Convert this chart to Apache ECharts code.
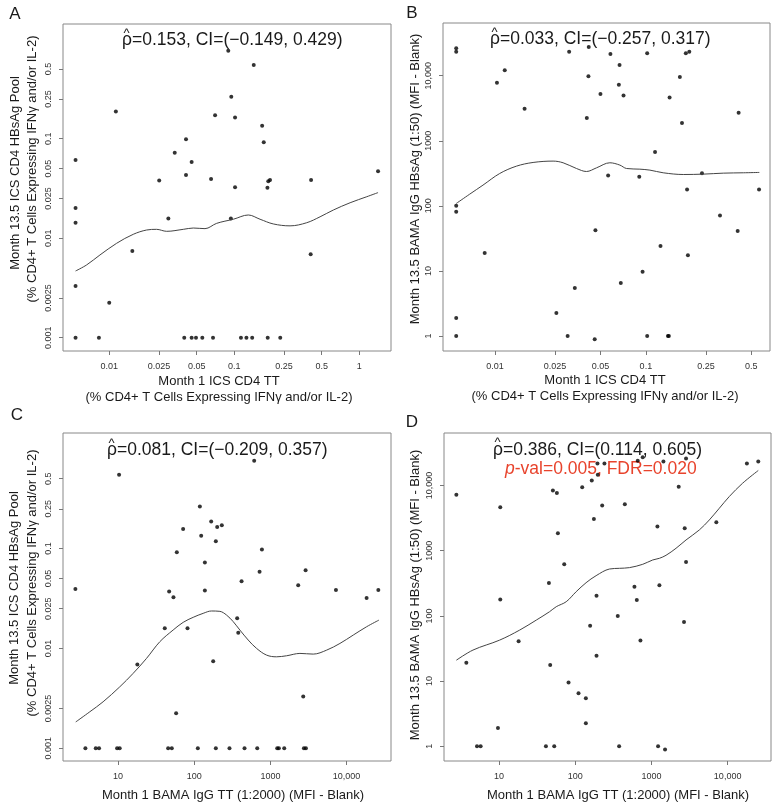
<!DOCTYPE html>
<html>
<head>
<meta charset="utf-8">
<script src="https://cdn.jsdelivr.net/npm/echarts@6/dist/echarts.min.js"></script>
<style>
  html, body { margin: 0; padding: 0; background: #fff; }
  #chart { width: 779px; height: 804px; }
</style>
</head>
<body>
<div id="chart"></div>
<script>
// panel A: Month 1 ICS CD4 TT vs Month 13.5 ICS CD4 HBsAg
const aX = [0.00538, 0.00538, 0.00538, 0.00538, 0.00538, 0.00827, 0.01, 0.0113, 0.0153, 0.0251, 0.0297, 0.0334, 0.0411, 0.0411, 0.0456, 0.0398, 0.0456, 0.0494, 0.0555, 0.0676, 0.0652, 0.0702, 0.0895, 0.0946, 0.0939, 0.1014, 0.1014, 0.113, 0.125, 0.139, 0.143, 0.167, 0.172, 0.184, 0.187, 0.193, 0.185, 0.233, 0.411, 0.408, 1.41];
const aY = [0.0611, 0.0201, 0.0143, 0.00331, 0.001, 0.001, 0.00225, 0.187, 0.00743, 0.0379, 0.0158, 0.0723, 0.0987, 0.0431, 0.0583, 0.001, 0.001, 0.001, 0.001, 0.001, 0.0394, 0.172, 0.766, 0.264, 0.0158, 0.163, 0.0325, 0.001, 0.001, 0.001, 0.551, 0.135, 0.092, 0.0322, 0.0373, 0.0384, 0.001, 0.001, 0.0384, 0.00689, 0.047];
const aFitX = [0.00538, 0.00659, 0.00843, 0.01145, 0.01557, 0.0199, 0.0239, 0.0288, 0.0391, 0.047, 0.0583, 0.0723, 0.0982, 0.1294, 0.1606, 0.2051, 0.279, 0.3793, 0.485, 0.62, 0.843, 1.146, 1.41];
const aFitY = [0.00468, 0.00538, 0.00678, 0.00888, 0.01094, 0.01208, 0.01227, 0.01172, 0.01227, 0.01265, 0.01247, 0.0141, 0.0155, 0.0171, 0.0155, 0.0139, 0.0133, 0.0143, 0.0164, 0.0192, 0.0227, 0.0261, 0.0287];

// panel B: Month 1 ICS CD4 TT vs Month 13.5 BAMA IgG HBsAg
const bX = [0.00553, 0.00553, 0.00553, 0.00553, 0.00553, 0.00553, 0.00854, 0.0103, 0.0116, 0.0157, 0.0255, 0.0303, 0.031, 0.0338, 0.0406, 0.0416, 0.0418, 0.0458, 0.0463, 0.05, 0.0562, 0.0582, 0.0662, 0.0669, 0.0682, 0.0711, 0.0904, 0.0951, 0.102, 0.102, 0.115, 0.125, 0.14, 0.142, 0.1436, 0.168, 0.1735, 0.184, 0.194, 0.1875, 0.19, 0.2355, 0.31, 0.406, 0.412, 0.5625];
const bY = [26350, 23400, 100, 80.9, 1.89, 1, 18.9, 7800, 12080, 3105, 2.26, 1, 23400, 5.47, 2233, 9770, 27600, 0.889, 42.2, 5225, 293, 21530, 7270, 14590, 6.54, 4980, 279, 9.66, 22070, 1, 670, 24.2, 1, 1, 4645, 9530, 1870, 22070, 23400, 178, 17.4, 318, 71, 41.2, 2698, 178];
const bFitX = [0.00553, 0.00679, 0.00832, 0.01074, 0.01386, 0.01788, 0.02427, 0.02827, 0.03466, 0.04038, 0.0471, 0.0577, 0.0672, 0.0744, 0.0912, 0.1063, 0.1303, 0.177, 0.2403, 0.326, 0.443, 0.565];
const bFitY = [108.6, 151, 208, 314, 407, 464, 487, 459, 375, 337, 384, 459, 423, 375, 366, 354, 322, 303, 307, 318, 322, 326];

// panel C: Month 1 BAMA IgG TT vs Month 13.5 ICS CD4 HBsAg
const cX = [2.75, 3.72, 5.09, 5.62, 9.7, 10.5, 10.3, 17.9, 41.0, 45.4, 50.7, 46.8, 53.3, 59.0, 57.8, 71.4, 81.5, 111.4, 118.4, 123.3, 137.8, 137.8, 166.8, 177.2, 192, 192, 200, 230, 290, 366, 378, 418, 457, 612, 671, 720, 773, 1228, 1291, 1518, 2317, 2696, 2752, 2924, 2896, 7247, 18320, 26120];
const cY = [0.0394, 0.001, 0.001, 0.001, 0.001, 0.001, 0.548, 0.0069, 0.0159, 0.001, 0.001, 0.0371, 0.0325, 0.0918, 0.00224, 0.157, 0.0159, 0.001, 0.264, 0.134, 0.0725, 0.038, 0.187, 0.00742, 0.001, 0.1186, 0.164, 0.171, 0.001, 0.02, 0.01436, 0.047, 0.001, 0.759, 0.001, 0.0587, 0.0977, 0.001, 0.001, 0.001, 0.0428, 0.0033, 0.001, 0.001, 0.0607, 0.0385, 0.032, 0.0385];
const cFitX = [2.78, 4.25, 6.35, 10.5, 15.7, 23.6, 35.3, 52.8, 71.5, 96.8, 131, 168, 217, 265, 325, 397, 511, 658, 890, 1205, 1630, 2440, 3650, 5470, 8180, 12250, 18330, 26600];
const cFitY = [0.001836, 0.00232, 0.00292, 0.00412, 0.00561, 0.00794, 0.01167, 0.01528, 0.01824, 0.02048, 0.02245, 0.0237, 0.0235, 0.0216, 0.01852, 0.01528, 0.01213, 0.01, 0.00857, 0.00824, 0.00844, 0.00891, 0.00877, 0.00961, 0.01122, 0.01361, 0.01649, 0.01921];

// panel D: Month 1 BAMA IgG TT vs Month 13.5 BAMA IgG HBsAg
const dX = [2.76, 3.73, 5.15, 5.75, 9.7, 10.4, 10.4, 18.1, 41.3, 45.2, 47.0, 51.0, 53.1, 57.5, 59.3, 71.8, 81.8, 110.6, 123.6, 138, 138, 157, 165, 176, 190.5, 190.5, 196, 198, 226, 242, 362, 377, 448, 599, 643, 662, 718, 770, 1199, 1223, 1273, 1437, 1510, 2281, 2679, 2735, 2847, 2847, 7110, 17900, 25230];
const dY = [7190, 19.1, 1, 1, 1.91, 4650, 179, 41, 1, 319, 17.6, 8380, 1, 7710, 1852, 618, 9.51, 6.52, 9420, 5.47, 2.26, 70.6, 11940, 3075, 204, 24.4, 21780, 14590, 4930, 21780, 99.4, 1, 5160, 281, 175, 23930, 42, 27260, 2344, 1, 294, 23390, 0.889, 9540, 80.4, 2210, 25990, 671, 2733, 21780, 23390];
const dFitX = [2.76, 4.56, 10.2, 18.7, 30.9, 46.1, 56.4, 76.2, 103, 139, 188, 282, 381, 515, 770, 1040, 1273, 1556, 2104, 2847, 4256, 5754, 7783, 10510, 15730, 25230];
const dFitY = [20.9, 29.9, 42.5, 60.6, 86.3, 115.9, 138.3, 165, 235, 323, 414, 524, 537, 550, 619, 721, 765, 851, 1090, 1462, 2084, 2966, 4485, 6774, 10860, 17010];

// tick labels
const icsTicks = [0.01, 0.025, 0.05, 0.1, 0.25, 0.5, 1];
const icsTickLabels = ['0.01', '0.025', '0.05', '0.1', '0.25', '0.5', '1'];
const hbsTicks = [0.001, 0.0025, 0.01, 0.025, 0.05, 0.1, 0.25, 0.5];
const hbsTickLabels = ['0.001', '0.0025', '0.01', '0.025', '0.05', '0.1', '0.25', '0.5'];
const bamaTicks = [1, 10, 100, 1000, 10000];
const bamaTickLabels = ['1', '10', '100', '1000', '10,000'];

const FONT = "'Liberation Sans', Arial, sans-serif";

function pairs(xs, ys) {
    return xs.map((x, i) => [x, ys[i]]);
}

function tickLabel(v, ticks, labels) {
    for (let i = 0; i < ticks.length; i++) {
        if (Math.abs(Math.log10(v) - Math.log10(ticks[i])) < 1e-6) return labels[i];
    }
    return '';
}

function logAxis(gridIndex, min, max, ticks, labels, isY) {
    return {
        type: 'log',
        logBase: 10,
        gridIndex: gridIndex,
        min: min,
        max: max,
        axisLine: { show: false },
        splitLine: { show: false },
        minorTick: { show: false },
        axisTick: { show: true, customValues: ticks, length: 4, lineStyle: { color: '#777' } },
        axisLabel: {
            customValues: ticks,
            formatter: (v) => tickLabel(v, ticks, labels),
            fontSize: 9,
            fontFamily: FONT,
            color: '#333',
            rotate: isY ? 90 : 0,
            margin: isY ? 10 : 11
        }
    };
}

function text(x, y, str, opts) {
    opts = opts || {};
    return {
        type: 'text',
        x: x,
        y: y,
        rotation: opts.rotate ? Math.PI / 2 : 0,
        silent: true,
        style: {
            text: str,
            fill: opts.color || '#1a1a1a',
            fontSize: opts.size || 13,
            fontFamily: FONT,
            textAlign: opts.align || 'center',
            textVerticalAlign: 'middle',
            rich: opts.rich
        }
    };
}

const ylabIcs = '(% CD4+ T Cells Expressing IFNγ and/or IL-2)';

const graphics = [
    text(15, 14, 'A', { size: 17 }),
    text(412, 13, 'B', { size: 17 }),
    text(17, 415, 'C', { size: 17 }),
    text(412, 422, 'D', { size: 17 }),

    // rho annotations
    text(122, 40, 'ρ=0.153, CI=(−0.149, 0.429)', { size: 17.5, align: 'left' }),
    text(126.5, 33, '^', { size: 13 }),
    text(490, 39, 'ρ=0.033, CI=(−0.257, 0.317)', { size: 17.5, align: 'left' }),
    text(494.5, 32, '^', { size: 13 }),
    text(107, 450, 'ρ=0.081, CI=(−0.209, 0.357)', { size: 17.5, align: 'left' }),
    text(111.5, 443.5, '^', { size: 13 }),
    text(493, 450, 'ρ=0.386, CI=(0.114, 0.605)', { size: 17.5, align: 'left' }),
    text(497.5, 442.5, '^', { size: 13 }),
    text(505, 469, '{i|p}-val=0.005, FDR=0.020', {
        size: 17.5, align: 'left', color: '#e8432c',
        rich: { i: { fontStyle: 'italic', fontSize: 17.5, fontFamily: FONT, fill: '#e8432c' } }
    }),

    // axis titles
    text(15, 173, 'Month 13.5 ICS CD4 HBsAg Pool', { rotate: true }),
    text(32, 169, ylabIcs, { rotate: true }),
    text(219, 381, 'Month 1 ICS CD4 TT'),
    text(219, 397, ylabIcs),

    text(415, 179, 'Month 13.5 BAMA IgG HBsAg (1:50) (MFI - Blank)', { rotate: true }),
    text(605, 380, 'Month 1 ICS CD4 TT'),
    text(605, 396, ylabIcs),

    text(14, 588, 'Month 13.5 ICS CD4 HBsAg Pool', { rotate: true }),
    text(32, 583, ylabIcs, { rotate: true }),
    text(233, 795, 'Month 1 BAMA IgG TT (1:2000) (MFI - Blank)'),

    text(415, 595, 'Month 13.5 BAMA IgG HBsAg (1:50) (MFI - Blank)', { rotate: true }),
    text(618, 795, 'Month 1 BAMA IgG TT (1:2000) (MFI - Blank)')
];

const gridStyle = { show: true, borderColor: '#888', borderWidth: 1, backgroundColor: 'transparent' };

function scatter(idx, xs, ys) {
    return {
        type: 'scatter', xAxisIndex: idx, yAxisIndex: idx,
        data: pairs(xs, ys), symbol: 'circle', symbolSize: 4,
        itemStyle: { color: '#000' }, silent: true
    };
}

function fit(idx, xs, ys) {
    return {
        type: 'line', xAxisIndex: idx, yAxisIndex: idx,
        data: pairs(xs, ys), showSymbol: false, smooth: 0.35,
        lineStyle: { color: '#444', width: 1 }, silent: true
    };
}

const chart = echarts.init(document.getElementById('chart'));
chart.setOption({
    animation: false,
    backgroundColor: '#fff',
    grid: [
        Object.assign({ left: 63, top: 24, width: 328, height: 327 }, gridStyle),
        Object.assign({ left: 443, top: 23, width: 327, height: 328 }, gridStyle),
        Object.assign({ left: 63, top: 433, width: 328, height: 328 }, gridStyle),
        Object.assign({ left: 444, top: 433, width: 327, height: 328 }, gridStyle)
    ],
    xAxis: [
        logAxis(0, 0.00427, 1.79, icsTicks, icsTickLabels, false),
        logAxis(1, 0.00452, 0.665, icsTicks, icsTickLabels, false),
        logAxis(2, 1.89, 38300, bamaTicks, bamaTickLabels, false),
        logAxis(3, 1.90, 37070, bamaTicks, bamaTickLabels, false)
    ],
    yAxis: [
        logAxis(0, 0.000735, 1.42, hbsTicks, hbsTickLabels, true),
        logAxis(1, 0.587, 64600, bamaTicks, bamaTickLabels, true),
        logAxis(2, 0.000746, 1.435, hbsTicks, hbsTickLabels, true),
        logAxis(3, 0.594, 63970, bamaTicks, bamaTickLabels, true)
    ],
    series: [
        scatter(0, aX, aY), fit(0, aFitX, aFitY),
        scatter(1, bX, bY), fit(1, bFitX, bFitY),
        scatter(2, cX, cY), fit(2, cFitX, cFitY),
        scatter(3, dX, dY), fit(3, dFitX, dFitY)
    ],
    graphic: graphics
});
</script>
</body>
</html>
